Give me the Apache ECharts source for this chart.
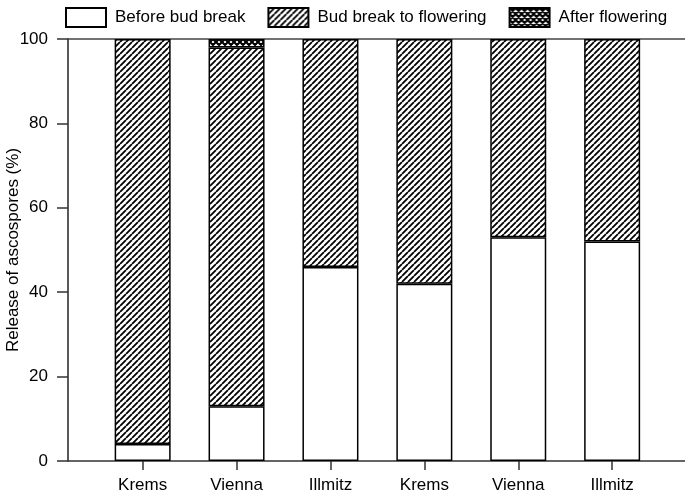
<!DOCTYPE html>
<html>
<head>
<meta charset="utf-8">
<script src="https://cdn.jsdelivr.net/npm/echarts@6/dist/echarts.min.js"></script>
<style>html,body{margin:0;padding:0;background:#fff;}#c{width:685px;height:494px;}</style>
</head>
<body>
<div id="c"></div>
<script>
const categories = ['Krems', 'Vienna', 'Illmitz', 'Krems', 'Vienna', 'Illmitz'];
const beforeBudBreak = [4, 13, 46, 42, 53, 52];
const budBreakToFlowering = [96, 85, 54, 58, 47, 48];
const afterFlowering = [0, 2, 0, 0, 0, 0];

function makePattern(size, cross, lw) {
  const c = document.createElement('canvas');
  c.width = size; c.height = size;
  const ctx = c.getContext('2d');
  ctx.fillStyle = '#fff';
  ctx.fillRect(0, 0, size, size);
  ctx.strokeStyle = '#000';
  ctx.lineWidth = lw;
  ctx.beginPath();
  for (const k of [-size, 0, size]) {
    ctx.moveTo(k, size); ctx.lineTo(k + size, 0);
    if (cross) { ctx.moveTo(k, 0); ctx.lineTo(k + size, size); }
  }
  ctx.stroke();
  return c;
}
const hatch = { image: makePattern(6, false, 1.8), repeat: 'repeat' };
const crossHatch = { image: makePattern(6, true, 2.1), repeat: 'repeat' };

const FONT = "'Liberation Sans', Arial, sans-serif";
const zeroAsGap = arr => arr.map(v => (v === 0 ? '-' : v));

const chart = echarts.init(document.getElementById('c'), null, { renderer: 'canvas' });
const border = { borderColor: '#000', borderWidth: 1.5 };
chart.setOption({
  animation: false,
  backgroundColor: '#fff',
  textStyle: { fontFamily: FONT },
  legend: {
    left: 60, top: 2, icon: 'rect',
    itemWidth: 40, itemHeight: 19, itemGap: 22,
    textStyle: { fontFamily: FONT, fontSize: 17, color: '#000', padding: [0, 0, 0, 4] },
    data: ['Before bud break', 'Bud break to flowering', 'After flowering']
  },
  grid: [
    { left: 68, right: 0, top: 39, bottom: 33, containLabel: false, outerBoundsMode: 'none' },
    { left: 95.7, right: 25.9, top: 39, bottom: 33, containLabel: false, outerBoundsMode: 'none' }
  ],
  xAxis: [{
    gridIndex: 0, type: 'value', min: 0, max: 1, position: 'bottom',
    axisLine: { show: true, lineStyle: { color: '#333', width: 1.5 } },
    axisTick: { show: false }, axisLabel: { show: false }, splitLine: { show: false }
  }, {
    gridIndex: 0, type: 'value', min: 0, max: 1, position: 'top',
    axisLine: { show: true, lineStyle: { color: '#444', width: 1.5 } },
    axisTick: { show: false }, axisLabel: { show: false }, splitLine: { show: false }
  }, {
    gridIndex: 1, type: 'category', data: categories, position: 'bottom',
    axisLine: { show: false },
    axisTick: { show: true, alignWithLabel: true, length: 9, lineStyle: { color: '#333', width: 1.5 } },
    axisLabel: { margin: 16, fontSize: 17, color: '#000', fontFamily: FONT, interval: 0 },
    splitLine: { show: false }
  }],
  yAxis: [{
    gridIndex: 0, type: 'value', min: 0, max: 100, interval: 20,
    name: 'Release of ascospores (%)', nameLocation: 'middle', nameGap: 46, nameRotate: 90,
    nameMoveOverlap: false,
    nameTextStyle: { fontSize: 17, color: '#000', fontFamily: FONT },
    axisLine: { show: true, lineStyle: { color: '#222', width: 1.5 } },
    axisTick: { show: true, length: 11, lineStyle: { color: '#333', width: 1.5 } },
    axisLabel: { margin: 20, fontSize: 17, color: '#000', fontFamily: FONT },
    splitLine: { show: false }
  }, {
    gridIndex: 1, type: 'value', min: 0, max: 100, show: false, splitLine: { show: false }
  }],
  series: [
    { type: 'bar', stack: 'total', barWidth: 56, xAxisIndex: 2, yAxisIndex: 1,
      name: 'Before bud break', data: zeroAsGap(beforeBudBreak),
      itemStyle: Object.assign({ color: '#fff' }, border) },
    { type: 'bar', stack: 'total', barWidth: 56, xAxisIndex: 2, yAxisIndex: 1,
      name: 'Bud break to flowering', data: zeroAsGap(budBreakToFlowering),
      itemStyle: Object.assign({ color: hatch }, border) },
    { type: 'bar', stack: 'total', barWidth: 56, xAxisIndex: 2, yAxisIndex: 1,
      name: 'After flowering', data: zeroAsGap(afterFlowering),
      itemStyle: Object.assign({ color: crossHatch }, border) }
  ]
});
</script>
</body>
</html>
